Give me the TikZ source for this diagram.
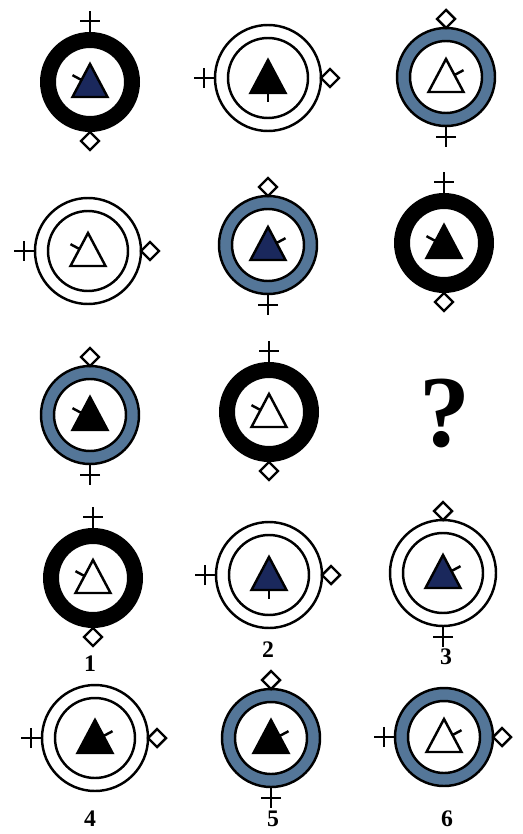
\documentclass[tikz,border=0pt]{standalone}
\usepackage{fontspec}
\setmainfont{Liberation Serif}

\definecolor{anilloazul}{RGB}{84,118,152}
\definecolor{marino}{RGB}{26,40,92}

\tikzset{
    trazo/.style={line width=1.4pt, line join=miter},
    etiqueta/.style={font=\fontsize{13.5}{15}\selectfont\bfseries},
}

% anillos
\newcommand{\anillonegro}[1]{\fill[even odd rule] (#1) circle (50) (#1) circle (34);}
\newcommand{\anilloazul}[1]{\filldraw[trazo, fill=anilloazul, even odd rule] (#1) circle (49) (#1) circle (36);}
\newcommand{\anillodoble}[1]{\draw[trazo] (#1) circle (53) (#1) circle (40);}

% trazos del triangulo
\newcommand{\marcaIzq}{(-8.5,-2) -- (-17.5,-6.8)}
\newcommand{\marcaDer}{(8.5,-2) -- (17.5,-6.8)}
\newcommand{\marcaAbajo}{(0,14) -- (0,24)}

% centro, relleno, marca
\newcommand{\triangulo}[3]{
    \begin{scope}[shift={(#1)}]
        \filldraw[trazo, fill=#2] (0,-18) -- (17.5,15) -- (-17.5,15) -- cycle;
        \draw[trazo] #3;
    \end{scope}}

% centro, radio, angulo de la cruz, angulo del rombo
\newcommand{\extremos}[4]{
    \begin{scope}[shift={(#1)}, rotate=#3]
        \draw[trazo] (#2,0) -- (#2+21,0) (#2+11,-10) -- (#2+11,10);
    \end{scope}
    \begin{scope}[shift={(#1)}, rotate=#4]
        \draw[trazo, fill=white] (#2,0) -- (#2+9,-9) -- (#2+18,0) -- (#2+9,9) -- cycle;
    \end{scope}}

\begin{document}
\begin{tikzpicture}[x=0.02cm, y=-0.02cm]
    \useasboundingbox (0,0) rectangle (522,834);

    % 1. CENTROS DE LAS CASILLAS
    \coordinate (a1) at (90,82);   \coordinate (a2) at (268,78);  \coordinate (a3) at (446,77);
    \coordinate (b1) at (88,251);  \coordinate (b2) at (268,245); \coordinate (b3) at (444,243);
    \coordinate (c1) at (90,415);  \coordinate (c2) at (269,412);
    \coordinate (o1) at (93,578);  \coordinate (o2) at (269,575); \coordinate (o3) at (443,573);
    \coordinate (o4) at (95,738);  \coordinate (o5) at (271,738); \coordinate (o6) at (444,737);

    % 2. FILA SUPERIOR
    \anillonegro{a1} \triangulo{a1}{marino}{\marcaIzq} \extremos{a1}{50}{90}{-90}
    \anillodoble{a2} \triangulo{a2}{black}{\marcaAbajo} \extremos{a2}{53}{180}{0}
    \anilloazul{a3} \triangulo{a3}{white}{\marcaDer} \extremos{a3}{49}{-90}{90}

    % 3. FILA CENTRAL
    \anillodoble{b1} \triangulo{b1}{white}{\marcaIzq} \extremos{b1}{53}{180}{0}
    \anilloazul{b2} \triangulo{b2}{marino}{\marcaDer} \extremos{b2}{49}{-90}{90}
    \anillonegro{b3} \triangulo{b3}{black}{\marcaIzq} \extremos{b3}{50}{90}{-90}

    % 4. FILA INFERIOR (con la incognita)
    \anilloazul{c1} \triangulo{c1}{black}{\marcaIzq} \extremos{c1}{49}{-90}{90}
    \anillonegro{c2} \triangulo{c2}{white}{\marcaIzq} \extremos{c2}{50}{90}{-90}
    \node[font=\fontsize{58}{60}\selectfont\bfseries] (preg) at (445,413) {?};

    % 5. OPCIONES 1-3
    \anillonegro{o1} \triangulo{o1}{white}{\marcaIzq} \extremos{o1}{50}{90}{-90}
    \anillodoble{o2} \triangulo{o2}{marino}{\marcaAbajo} \extremos{o2}{53}{180}{0}
    \anillodoble{o3} \triangulo{o3}{marino}{\marcaDer} \extremos{o3}{53}{-90}{90}

    % 6. OPCIONES 4-6
    \anillodoble{o4} \triangulo{o4}{black}{\marcaDer} \extremos{o4}{53}{180}{0}
    \anilloazul{o5} \triangulo{o5}{black}{\marcaDer} \extremos{o5}{49}{-90}{90}
    \anilloazul{o6} \triangulo{o6}{white}{\marcaDer} \extremos{o6}{49}{180}{0}

    % 7. NUMEROS DE LAS OPCIONES
    \node[etiqueta] (n1) at (90,664) {1};
    \node[etiqueta] (n2) at (268,650) {2};
    \node[etiqueta] (n3) at (446,657) {3};
    \node[etiqueta] (n4) at (90,819) {4};
    \node[etiqueta] (n5) at (273,819) {5};
    \node[etiqueta] (n6) at (447,819) {6};

\end{tikzpicture}
\end{document}
